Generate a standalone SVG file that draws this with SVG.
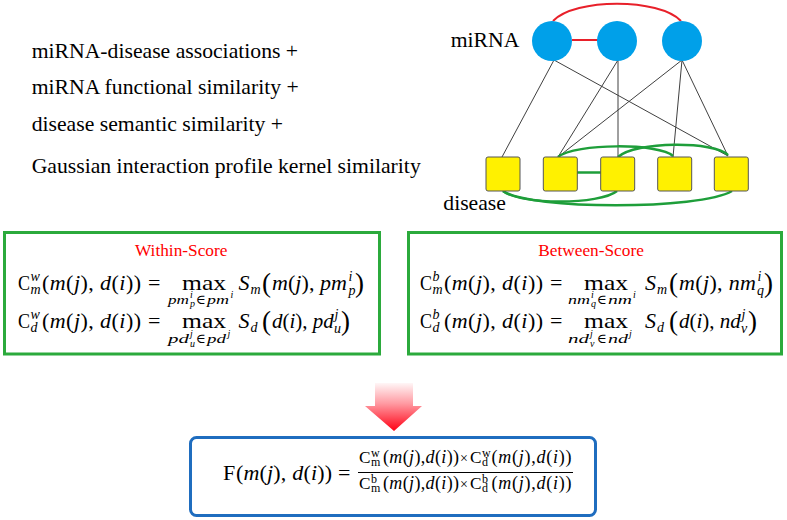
<svg xmlns="http://www.w3.org/2000/svg" width="787" height="520" viewBox="0 0 787 520">
<defs>
<style>
.f{font-family:"Liberation Serif","DejaVu Serif",serif;fill:#000}
.it{font-style:italic}
.m{font-size:22px}
.m2{font-size:21px}
.s{font-size:14px}
.u{font-size:13.5px}
.t{font-size:10px}
.bp{font-size:27px}
.n{font-size:18px}
.ns{font-size:12px}
.lbl{font-family:"Liberation Serif",serif;font-size:21.7px;fill:#000}
.ttl{font-family:"Liberation Serif",serif;font-size:17.3px;fill:#FF0000}
.blk{stroke:#404040;stroke-width:1;fill:none}
.red{stroke:#E8202A;stroke-width:2;fill:none}
.grn{stroke:#1E9E3A;stroke-width:2.5;fill:none}
.cir{fill:#00A0E9}
.sq{fill:#FFF100;stroke:#555;stroke-width:1}
.box{fill:#fff;stroke:#2BAA3C;stroke-width:3}
</style>
<linearGradient id="ag" x1="0" y1="381" x2="0" y2="431" gradientUnits="userSpaceOnUse">
<stop offset="0" stop-color="#FFFFFF"/>
<stop offset="0.45" stop-color="#FF9AA2"/>
<stop offset="1" stop-color="#FF0014"/>
</linearGradient>
</defs>
<rect width="787" height="520" fill="#fff"/>

<g id="text-list">
<text class="lbl" x="31.7" y="58">miRNA-disease associations +</text>
<text class="lbl" x="31.7" y="94">miRNA functional similarity +</text>
<text class="lbl" x="31.7" y="131">disease semantic similarity +</text>
<text class="lbl" x="31.7" y="173">Gaussian interaction profile kernel similarity</text>
</g>

<g id="connectors">
<line class="blk" x1="554" y1="60" x2="502" y2="157"/>
<line class="blk" x1="554" y1="60" x2="728" y2="156"/>
<line class="blk" x1="618" y1="60" x2="558" y2="157"/>
<line class="blk" x1="618" y1="60" x2="618" y2="157"/>
<line class="blk" x1="682" y1="60" x2="558" y2="157"/>
<line class="blk" x1="682" y1="60" x2="673" y2="157"/>
<line class="blk" x1="682" y1="60" x2="728" y2="156"/>
<path class="red" d="M553,21 C575,-2 659,-2 681,21"/>
<line class="red" x1="572" y1="40" x2="598" y2="40"/>
<path class="grn" d="M558,157 C575,143 660,143 673,156"/>
<path class="grn" d="M618,157 C635,141 715,141 728,155"/>
<path class="grn" d="M503,191 C520,205 600,205 617,191"/>
<path class="grn" d="M503,191 C530,210 700,210 732,191"/>
<line class="grn" x1="577" y1="172.5" x2="601" y2="172.5"/>
</g>

<g id="mirna-nodes">
<text class="lbl" x="450.7" y="47">miRNA</text>
<circle id="m1" class="cir" cx="552" cy="41" r="20"/>
<circle id="m2" class="cir" cx="617" cy="41" r="20"/>
<circle id="m3" class="cir" cx="682" cy="41" r="20"/>
</g>

<g id="disease-nodes">
<rect id="d1" class="sq" x="486" y="157" width="34" height="34" rx="2"/>
<rect id="d2" class="sq" x="543.3" y="157" width="34" height="34" rx="2"/>
<rect id="d3" class="sq" x="600.7" y="157" width="34" height="34" rx="2"/>
<rect id="d4" class="sq" x="657.7" y="157" width="34" height="34" rx="2"/>
<rect id="d5" class="sq" x="714.3" y="157" width="34" height="34" rx="2"/>
<text class="lbl" x="443.3" y="210">disease</text>
</g>

<g id="within-score">
<rect class="box" x="4.5" y="232.5" width="375" height="121.5"/>
<text class="ttl" x="135" y="256">Within-Score</text>
<text class="f m" x="18" y="290" textLength="12" lengthAdjust="spacingAndGlyphs">C</text>
<text class="f it s" x="30.5" y="281">w</text>
<text class="f it s" x="30.5" y="294">m</text>
<text class="f m" x="42" y="290" textLength="99">(<tspan class="it">m</tspan>(<tspan class="it">j</tspan>), <tspan class="it">d</tspan>(<tspan class="it">i</tspan>))</text>
<text class="f m" x="148" y="290">=</text>
<text class="f" x="182" y="290" font-size="21" textLength="44" lengthAdjust="spacingAndGlyphs">max</text>
<text class="f it u" x="168" y="304" textLength="21" lengthAdjust="spacingAndGlyphs">pm</text>
<text class="f it t" x="190" y="298">i</text>
<text class="f it t" x="190" y="307">p</text>
<text class="f u" x="196" y="304">∈</text>
<text class="f it u" x="207" y="304" textLength="22" lengthAdjust="spacingAndGlyphs">pm</text>
<text class="f it t" x="230.5" y="298">i</text>
<text class="f it m" x="238.5" y="290">S</text>
<text class="f it s" x="250.5" y="294">m</text>
<text class="f bp" x="262" y="292">(</text>
<text class="f m" x="272" y="290" textLength="75"><tspan class="it">m</tspan>(<tspan class="it">j</tspan>), <tspan class="it">pm</tspan></text>
<text class="f it s" x="348.5" y="281">i</text>
<text class="f it s" x="348.5" y="295">p</text>
<text class="f bp" x="355" y="292">)</text>

<text class="f m" x="18" y="328" textLength="12" lengthAdjust="spacingAndGlyphs">C</text>
<text class="f it s" x="30.5" y="319">w</text>
<text class="f it s" x="30.5" y="332">d</text>
<text class="f m" x="42" y="328" textLength="99">(<tspan class="it">m</tspan>(<tspan class="it">j</tspan>), <tspan class="it">d</tspan>(<tspan class="it">i</tspan>))</text>
<text class="f m" x="148" y="328">=</text>
<text class="f" x="182" y="328" font-size="21" textLength="44" lengthAdjust="spacingAndGlyphs">max</text>
<text class="f it u" x="168" y="342.5" textLength="21" lengthAdjust="spacingAndGlyphs">pd</text>
<text class="f it t" x="190" y="336.5">j</text>
<text class="f it t" x="190" y="346.5">u</text>
<text class="f u" x="196" y="342.5">∈</text>
<text class="f it u" x="207" y="342.5" textLength="19" lengthAdjust="spacingAndGlyphs">pd</text>
<text class="f it t" x="227.5" y="336.5">j</text>
<text class="f it m" x="238.5" y="328">S</text>
<text class="f it s" x="250.5" y="332">d</text>
<text class="f bp" x="262" y="330">(</text>
<text class="f m2" x="272" y="328"><tspan class="it">d</tspan>(<tspan class="it">i</tspan>), <tspan class="it">pd</tspan></text>
<text class="f it s" x="334.5" y="319">j</text>
<text class="f it s" x="334" y="333">u</text>
<text class="f bp" x="341" y="330">)</text>
</g>

<g id="between-score">
<rect class="box" x="408.5" y="232.5" width="373" height="121.5"/>
<text class="ttl" x="538.3" y="256">Between-Score</text>
<text class="f m" x="420" y="290" textLength="12" lengthAdjust="spacingAndGlyphs">C</text>
<text class="f it s" x="432.5" y="281">b</text>
<text class="f it s" x="432.5" y="294">m</text>
<text class="f m" x="444" y="290" textLength="99">(<tspan class="it">m</tspan>(<tspan class="it">j</tspan>), <tspan class="it">d</tspan>(<tspan class="it">i</tspan>))</text>
<text class="f m" x="550" y="290">=</text>
<text class="f" x="584" y="290" font-size="21" textLength="44" lengthAdjust="spacingAndGlyphs">max</text>
<text class="f it u" x="568" y="304" textLength="22" lengthAdjust="spacingAndGlyphs">nm</text>
<text class="f it t" x="591" y="298">i</text>
<text class="f it t" x="591" y="307">q</text>
<text class="f u" x="597" y="304">∈</text>
<text class="f it u" x="608" y="304" textLength="24" lengthAdjust="spacingAndGlyphs">nm</text>
<text class="f it t" x="633" y="298">i</text>
<text class="f it m" x="645" y="290">S</text>
<text class="f it s" x="657" y="294">m</text>
<text class="f bp" x="669" y="292">(</text>
<text class="f m" x="679" y="290" textLength="77"><tspan class="it">m</tspan>(<tspan class="it">j</tspan>), <tspan class="it">nm</tspan></text>
<text class="f it s" x="757.5" y="281">i</text>
<text class="f it s" x="757" y="295">q</text>
<text class="f bp" x="764" y="292">)</text>

<text class="f m" x="420" y="328" textLength="12" lengthAdjust="spacingAndGlyphs">C</text>
<text class="f it s" x="432.5" y="319">b</text>
<text class="f it s" x="432.5" y="332">d</text>
<text class="f m" x="444" y="328" textLength="99">(<tspan class="it">m</tspan>(<tspan class="it">j</tspan>), <tspan class="it">d</tspan>(<tspan class="it">i</tspan>))</text>
<text class="f m" x="550" y="328">=</text>
<text class="f" x="584" y="328" font-size="21" textLength="44" lengthAdjust="spacingAndGlyphs">max</text>
<text class="f it u" x="568" y="342.5" textLength="21" lengthAdjust="spacingAndGlyphs">nd</text>
<text class="f it t" x="590" y="336.5">j</text>
<text class="f it t" x="590" y="346.5">v</text>
<text class="f u" x="597" y="342.5">∈</text>
<text class="f it u" x="608" y="342.5" textLength="20" lengthAdjust="spacingAndGlyphs">nd</text>
<text class="f it t" x="629" y="336.5">j</text>
<text class="f it m" x="645" y="328">S</text>
<text class="f it s" x="657" y="332">d</text>
<text class="f bp" x="669" y="330">(</text>
<text class="f m2" x="679" y="328"><tspan class="it">d</tspan>(<tspan class="it">i</tspan>), <tspan class="it">nd</tspan></text>
<text class="f it s" x="741.5" y="319">j</text>
<text class="f it s" x="741" y="333">v</text>
<text class="f bp" x="748" y="330">)</text>
</g>

<g id="arrow">
<polygon points="375,383 413,383 413,406 422,406 394,431 365,406 375,406" fill="url(#ag)"/>
</g>

<g id="final-score">
<rect x="190.5" y="437.5" width="405" height="78" rx="6" fill="#fff" stroke="#1F6DBF" stroke-width="3"/>
<text class="f m" x="223" y="480">F</text>
<text class="f m" x="236" y="480" textLength="96">(<tspan class="it">m</tspan>(<tspan class="it">j</tspan>), <tspan class="it">d</tspan>(<tspan class="it">i</tspan>))</text>
<text class="f m" x="338" y="480">=</text>

<text class="f" x="359" y="463" font-size="17" textLength="11.5" lengthAdjust="spacingAndGlyphs">C</text>
<text class="f ns" x="371" y="457">w</text>
<text class="f ns" x="371" y="466">m</text>
<text class="f n" x="383" y="463" textLength="76">(<tspan class="it">m</tspan>(<tspan class="it">j</tspan>),<tspan class="it">d</tspan>(<tspan class="it">i</tspan>))</text>
<text class="f" x="460" y="463" font-size="14">×</text>
<text class="f" x="470" y="463" font-size="17" textLength="11.5" lengthAdjust="spacingAndGlyphs">C</text>
<text class="f ns" x="482" y="457">w</text>
<text class="f ns" x="482" y="466">d</text>
<text class="f n" x="491.5" y="463" textLength="80">(<tspan class="it">m</tspan>(<tspan class="it">j</tspan>),<tspan class="it">d</tspan>(<tspan class="it">i</tspan>))</text>

<line x1="358" y1="472.5" x2="573" y2="472.5" stroke="#000" stroke-width="1.2"/>

<text class="f" x="359" y="489" font-size="17" textLength="11.5" lengthAdjust="spacingAndGlyphs">C</text>
<text class="f ns" x="371" y="483">b</text>
<text class="f ns" x="371" y="492">m</text>
<text class="f n" x="383" y="489" textLength="76">(<tspan class="it">m</tspan>(<tspan class="it">j</tspan>),<tspan class="it">d</tspan>(<tspan class="it">i</tspan>))</text>
<text class="f" x="460" y="489" font-size="14">×</text>
<text class="f" x="470" y="489" font-size="17" textLength="11.5" lengthAdjust="spacingAndGlyphs">C</text>
<text class="f ns" x="482" y="483">b</text>
<text class="f ns" x="482" y="492">d</text>
<text class="f n" x="491.5" y="489" textLength="80">(<tspan class="it">m</tspan>(<tspan class="it">j</tspan>),<tspan class="it">d</tspan>(<tspan class="it">i</tspan>))</text>
</g>
</svg>
